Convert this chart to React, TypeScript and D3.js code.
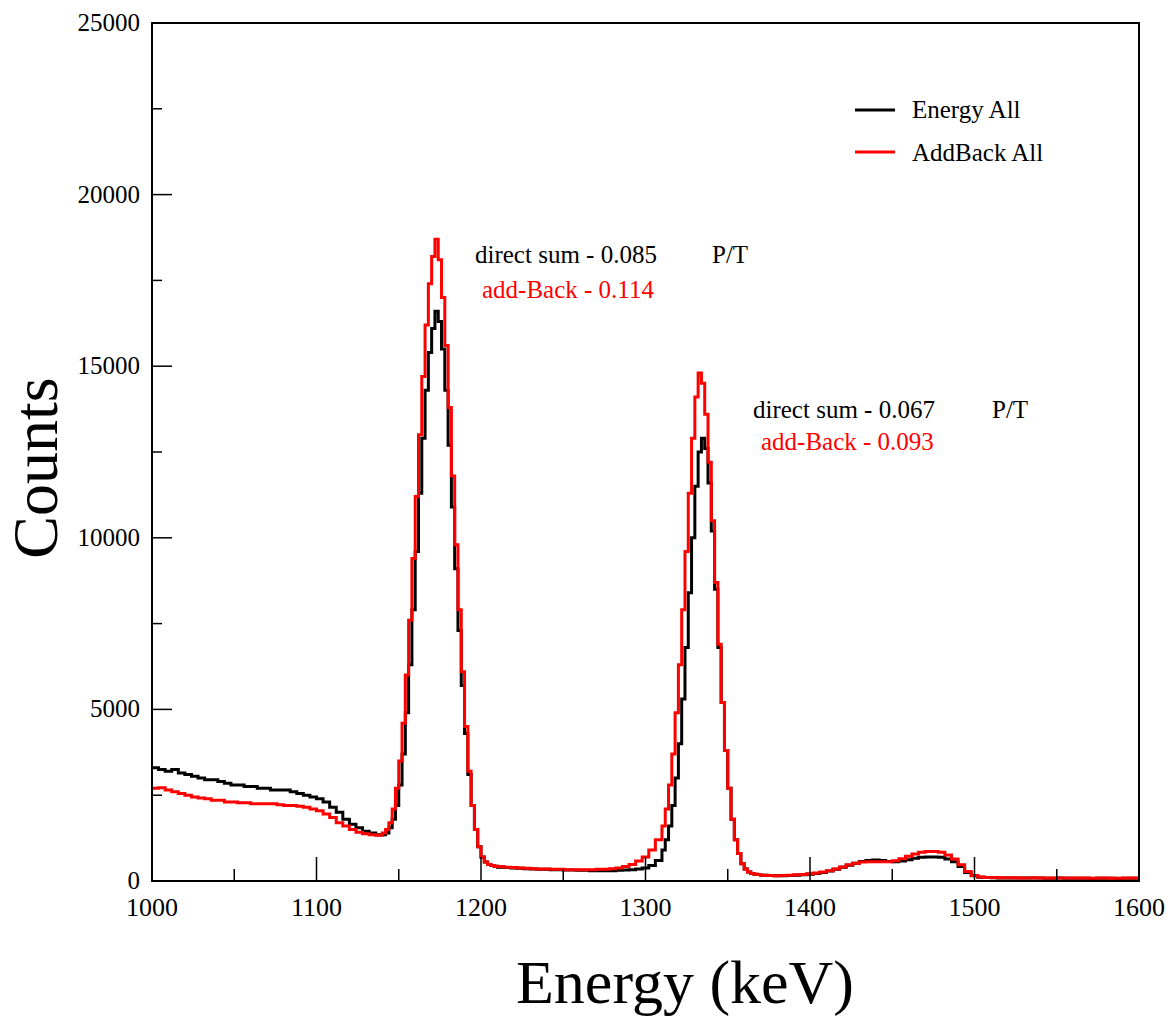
import React from 'react';
import * as d3 from 'd3';

// histogram segments: start energy, bin width (keV), counts per bin
const preStart = 1000, preWidth = 4;
const preBlack = [3300, 3250, 3200, 3250, 3150, 3100, 3050, 3000, 2950, 2950, 2900, 2850, 2800, 2800, 2750, 2750, 2700, 2700, 2650, 2650, 2650, 2600, 2550, 2500, 2450, 2400, 2300, 2150, 2000, 1800, 1650, 1550, 1450, 1400, 1350];
const preRed = [2700, 2720, 2650, 2600, 2550, 2500, 2450, 2420, 2400, 2350, 2350, 2300, 2300, 2280, 2280, 2250, 2250, 2250, 2250, 2220, 2200, 2200, 2180, 2150, 2100, 2050, 1950, 1850, 1700, 1600, 1500, 1420, 1380, 1350, 1330];

const peak1Start = 1140, peak1Width = 2;
const peak1Black = [1350, 1400, 1550, 1800, 2200, 2800, 3700, 4900, 6300, 7900, 9600, 11300, 12900, 14300, 15400, 16100, 16600, 16300, 15500, 14300, 12700, 10900, 9100, 7300, 5700, 4300, 3100, 2200, 1500, 1000, 700, 550, 480, 450, 430];
const peak1Red = [1400, 1500, 1700, 2100, 2700, 3500, 4600, 6000, 7600, 9400, 11200, 13000, 14700, 16200, 17400, 18200, 18700, 18100, 17000, 15600, 13800, 11800, 9800, 7900, 6100, 4500, 3200, 2200, 1500, 1000, 700, 550, 480, 450, 430];

const midStart = 1210, midWidth = 4;
const midBlack = [400, 390, 380, 370, 360, 350, 340, 340, 330, 330, 320, 320, 310, 310, 300, 300, 300, 300, 310, 320, 330, 350, 380, 450, 600];
const midRed = [420, 400, 390, 380, 370, 360, 350, 350, 340, 340, 330, 330, 330, 330, 330, 340, 340, 360, 380, 420, 480, 580, 700, 900, 1200];

const peak2Start = 1310, peak2Width = 2;
const peak2Black = [900, 1200, 1600, 2200, 3000, 4000, 5300, 6800, 8400, 10000, 11500, 12500, 12900, 12600, 11600, 10200, 8500, 6800, 5200, 3800, 2700, 1800, 1200, 800, 500, 350, 260, 220, 200, 190];
const peak2Red = [1600, 2100, 2800, 3700, 4900, 6300, 7900, 9600, 11300, 12900, 14100, 14800, 14500, 13600, 12200, 10500, 8700, 6900, 5200, 3800, 2700, 1800, 1200, 800, 500, 350, 260, 220, 200, 190];

const tailStart = 1370, tailWidth = 4;
const tailBlack = [170, 160, 150, 150, 160, 170, 180, 200, 220, 250, 290, 340, 400, 460, 520, 570, 600, 610, 600, 570, 560, 580, 620, 660, 690, 700, 700, 690, 640, 560, 420, 250, 150, 110, 100, 95, 90, 90, 90, 85, 85, 90, 85, 80, 80, 85, 80, 80, 80, 80, 75, 80, 80, 80, 75, 80, 80, 80];
const tailRed = [170, 160, 150, 160, 170, 180, 190, 210, 230, 260, 300, 350, 410, 470, 520, 550, 560, 560, 560, 560, 590, 650, 720, 790, 840, 860, 860, 840, 760, 640, 470, 280, 160, 120, 105, 100, 95, 95, 95, 90, 90, 95, 90, 85, 85, 90, 85, 85, 85, 85, 80, 85, 85, 80, 80, 85, 85, 85];

const xTicks = [1000, 1100, 1200, 1300, 1400, 1500, 1600];
const yTicks = [0, 5000, 10000, 15000, 20000, 25000];

function toPoints(segs: [number, number, number[]][]): [number, number][] {
  const pts: [number, number][] = [];
  let last = 0, end = 0;
  segs.forEach(([start, w, vals]) => {
    vals.forEach((v, i) => pts.push([start + i * w, v]));
    last = vals[vals.length - 1];
    end = start + vals.length * w;
  });
  pts.push([end, last]);
  return pts;
}

const blackPts = toPoints([[preStart, preWidth, preBlack], [peak1Start, peak1Width, peak1Black], [midStart, midWidth, midBlack], [peak2Start, peak2Width, peak2Black], [tailStart, tailWidth, tailBlack]]);
const redPts = toPoints([[preStart, preWidth, preRed], [peak1Start, peak1Width, peak1Red], [midStart, midWidth, midRed], [peak2Start, peak2Width, peak2Red], [tailStart, tailWidth, tailRed]]);

export default function App() {
  const left = 152, right = 1139, top = 23, bottom = 881;
  const x = d3.scaleLinear().domain([1000, 1600]).range([left, right]);
  const y = d3.scaleLinear().domain([0, 25000]).range([bottom, top]);
  const line = d3.line<[number, number]>().x(d => x(d[0])).y(d => y(d[1])).curve(d3.curveStepAfter);
  const font = '"Liberation Serif", "Times New Roman", serif';
  const minorX = d3.range(1050, 1600, 100);
  const minorY = d3.range(2500, 25000, 5000);

  return (
    <svg width={1172} height={1020} style={{ position: 'absolute', left: 0, top: 0, background: '#fff' }} fontFamily={font}>
      <defs>
        <clipPath id="plot"><rect x={left} y={top} width={right - left} height={bottom - top} /></clipPath>
      </defs>
      <g clipPath="url(#plot)">
        <path d={line(blackPts) || ''} fill="none" stroke="#000" strokeWidth={3} />
        <path d={line(redPts) || ''} fill="none" stroke="#f00" strokeWidth={3} />
      </g>
      <rect x={left} y={top} width={right - left} height={bottom - top} fill="none" stroke="#000" strokeWidth={2} />
      {xTicks.map(t => (
        <g key={t}>
          <line x1={x(t)} x2={x(t)} y1={bottom} y2={bottom - 24} stroke="#000" strokeWidth={1.5} />
          <text x={x(t)} y={916} textAnchor="middle" fontSize={26}>{t}</text>
        </g>
      ))}
      {minorX.map(t => <line key={t} x1={x(t)} x2={x(t)} y1={bottom} y2={bottom - 12} stroke="#000" strokeWidth={1.5} />)}
      {yTicks.map(t => (
        <g key={t}>
          <line x1={left} x2={left + 20} y1={y(t)} y2={y(t)} stroke="#000" strokeWidth={1.5} />
          <text x={140} y={y(t) + 8} textAnchor="end" fontSize={25}>{t}</text>
        </g>
      ))}
      {minorY.map(t => <line key={t} x1={left} x2={left + 10} y1={y(t)} y2={y(t)} stroke="#000" strokeWidth={1.5} />)}

      <line x1={855} x2={895} y1={110} y2={110} stroke="#000" strokeWidth={3} />
      <text x={912} y={118} fontSize={25}>Energy All</text>
      <line x1={855} x2={895} y1={152} y2={152} stroke="#f00" strokeWidth={3} />
      <text x={912} y={161} fontSize={25}>AddBack All</text>

      <text x={475} y={263} fontSize={25}>direct sum - 0.085</text>
      <text x={712} y={263} fontSize={25}>P/T</text>
      <text x={482} y={298} fontSize={25} fill="#f00">add-Back - 0.114</text>
      <text x={753} y={418} fontSize={25}>direct sum - 0.067</text>
      <text x={992} y={418} fontSize={25}>P/T</text>
      <text x={761} y={450} fontSize={25} fill="#f00">add-Back - 0.093</text>

      <text transform="translate(57,468) rotate(-90)" textAnchor="middle" fontSize={64}>Counts</text>
      <text x={685} y={1003} textAnchor="middle" fontSize={62}>Energy (keV)</text>
    </svg>
  );
}
